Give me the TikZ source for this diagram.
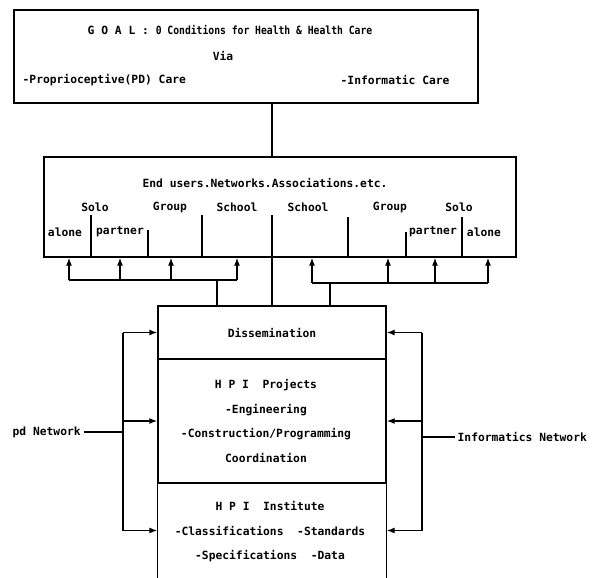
\documentclass[tikz,border=0pt]{standalone}
\usepackage{fontspec}
\newfontfamily\dotfont{DejaVu Sans Mono}
\usetikzlibrary{positioning, arrows.meta}

\begin{document}
\begin{tikzpicture}[x=1pt, y=-1pt, line width=1.3pt,
                    every node/.style={font=\dotfont\bfseries\fontsize{11.3}{24.5}\selectfont, inner sep=0pt},
                    box/.style={draw, line width=1.3pt},
                    up/.style={-{Latex[length=8pt,width=6pt]}}]
                    \useasboundingbox (0,0) rectangle (595,578);

                    % Boxes
                    \node[box, minimum width=464pt, minimum height=93pt] (goal) at (246,56.5) {};
                    \node[box, minimum width=472pt, minimum height=100pt] (mid) at (280,207) {};
                    \node[box, minimum width=228pt, minimum height=53pt] (diss) at (272,332.5) {Dissemination};
                    \node[box, minimum width=228pt, minimum height=124pt] (proj) at (272,421) {};
                    \node[minimum width=228pt, minimum height=95pt] (inst) at (272,530.5) {};
                    \draw (inst.north west) -- (inst.south west);
                    \draw (inst.north east) -- (inst.south east);

                    % Goal texts
                    \node (goaltxt) at (230,30) {G O A L :~\scalebox{0.86}[1]{0 Conditions for Health \& Health Care}};
                    \node (via) at (223,56) {Via};
                    \node[anchor=west] (pdcare) at (22,80) {-Proprioceptive(PD) Care};
                    \node[anchor=west] (infocare) at (340,80) {-Informatic Care};

                    % End users
                    \node (users) at (265,183) {End users.Networks.Associations.etc.};
                    \node (solol) at (95,207) {Solo};
                    \node (groupl) at (170,207) {Group};
                    \node (schooll) at (237,207) {School};
                    \node (schoolr) at (308,207) {School};
                    \node (groupr) at (390,207) {Group};
                    \node (solor) at (459,207) {Solo};
                    \node (alonel) at (65,232) {alone};
                    \node (partnerl) at (120,232) {partner};
                    \node (partnerr) at (433,232) {partner};
                    \node (aloner) at (484,232) {alone};
                    \foreach \x/\t in {91/215, 148/230, 202/215, 348/217, 406/232, 462/217}
                        \draw (\x,257) -- (\x,\t);

                    % HPI texts
                    \node[align=center] (projtxt) at (266,421) {H P I~~Projects\\-Engineering\\-Construction/Programming\\Coordination};
                    \node[align=center] (insttxt) at (270,532) {H P I~~Institute\\-Classifications~~-Standards\\-Specifications~~-Data};

                    % Goal to users to HPI
                    \draw (goal.south -| diss.north) -- (mid.north -| diss.north);
                    \draw (diss.north) -- (diss.north |- 0,215);

                    % Dissemination to users
                    \coordinate (lbar) at (217,280);
                    \coordinate (rbar) at (330,283);
                    \draw (diss.north -| lbar) -- (lbar);
                    \draw (diss.north -| rbar) -- (rbar);
                    \draw (69,280) -- (237,280);
                    \draw (312,283) -- (488,283);
                    \foreach \x in {69,120,171,237}
                        \draw[up] (\x,280) -- (\x,280 |- mid.south);
                    \foreach \x in {312,388,435,488}
                        \draw[up] (\x,283) -- (\x,283 |- mid.south);

                    % pd Network
                    \node[anchor=west] (pdnet) at (12,432) {pd Network};
                    \coordinate (pdsplit) at (123,432);
                    \draw ([xshift=3pt]pdnet.east) -- (pdsplit);
                    \draw (pdsplit |- diss.west) -- (pdsplit |- inst.west);
                    \draw[up] (pdsplit |- diss.west) -- (diss.west);
                    \draw[up] (pdsplit |- proj.west) -- (proj.west);
                    \draw[up] (pdsplit |- inst.west) -- (inst.west);

                    % Informatics Network
                    \node[anchor=west] (infonet) at (457,437) {Informatics Network};
                    \coordinate (insplit) at (422,437);
                    \draw (insplit) -- ([xshift=-2pt]infonet.west);
                    \draw (insplit |- diss.east) -- (insplit |- inst.east);
                    \draw[up] (insplit |- diss.east) -- (diss.east);
                    \draw[up] (insplit |- proj.east) -- (proj.east);
                    \draw[up] (insplit |- inst.east) -- (inst.east);

                \end{tikzpicture}
\end{document}
